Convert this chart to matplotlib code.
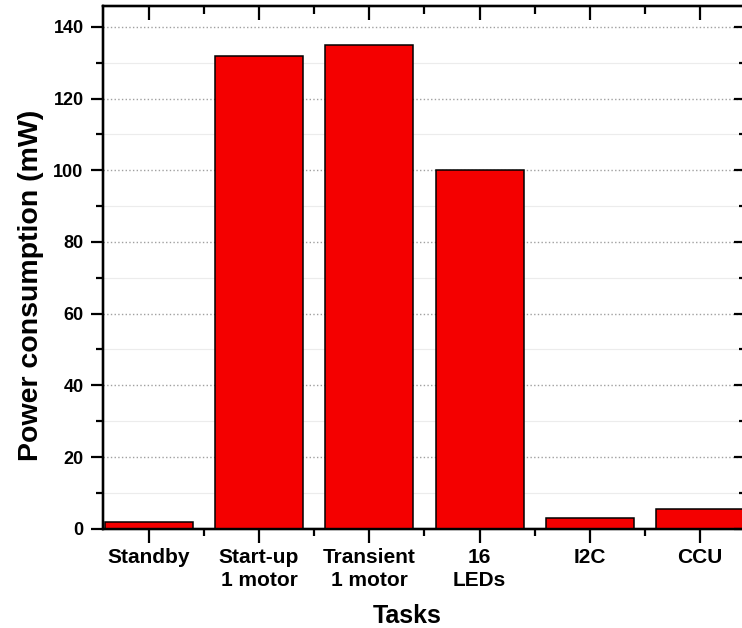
import numpy as np
import matplotlib.pyplot as plt
from matplotlib.ticker import MultipleLocator

plt.rcParams['font.family'] = ['Liberation Sans', 'DejaVu Sans']
plt.rcParams['font.weight'] = 'bold'

tasks = ["Standby", "Start-up\n1 motor", "Transient\n1 motor", "16\nLEDs", "I2C", "CCU"]
power_mw = [1.8, 132, 135, 100, 3.1, 5.4]

x = np.arange(len(tasks))

fig = plt.figure(figsize=(7.42, 6.28), dpi=100)
ax = fig.add_axes([0.1388, 0.1581, 0.8666, 0.8323])

ax.bar(x, power_mw, width=0.8, color="#f40000", edgecolor="black", linewidth=1.1, zorder=3)

ax.set_xlim(-0.415, 5.415)
ax.set_ylim(0, 145.8)

ax.set_xticks(x)
ax.set_xticklabels(tasks, fontsize=15, fontweight='bold', linespacing=1.25)
ax.set_xticks(x[:-1] + 0.5, minor=True)
ax.yaxis.set_major_locator(MultipleLocator(20))
ax.yaxis.set_minor_locator(MultipleLocator(10))
for lab in ax.get_yticklabels():
    lab.set_fontsize(13)
    lab.set_fontweight('bold')

# outward ticks on left/bottom, inward on top/right
ax.tick_params(which='major', direction='out', length=10, width=1.6, pad=4)
ax.tick_params(which='minor', direction='out', length=5, width=1.6)
ax.tick_params(axis='y', which='major', length=9, pad=5)

ax_top = ax.twiny()
ax_top.set_xlim(ax.get_xlim())
ax_top.set_xticks(x)
ax_top.set_xticks(x[:-1] + 0.5, minor=True)
ax_top.set_xticklabels([])
ax_top.tick_params(which='major', direction='in', length=10, width=1.6)
ax_top.tick_params(which='minor', direction='in', length=6, width=1.6)

ax_right = ax.twinx()
ax_right.set_ylim(ax.get_ylim())
ax_right.yaxis.set_major_locator(MultipleLocator(20))
ax_right.yaxis.set_minor_locator(MultipleLocator(10))
ax_right.set_yticklabels([])
ax_right.tick_params(which='major', direction='in', length=9, width=1.6)
ax_right.tick_params(which='minor', direction='in', length=5, width=1.6)

for a in (ax, ax_top, ax_right):
    for s in a.spines.values():
        s.set_linewidth(1.6)

ax.grid(axis='y', which='major', color='#a0a0a0', linestyle=':', linewidth=1.0, zorder=0)
ax.grid(axis='y', which='minor', color='#ececec', linestyle='-', linewidth=0.8, zorder=0)

ax.set_ylabel("Power consumption (mW)", fontsize=20.5, fontweight='bold', labelpad=7, y=0.466)
ax.set_xlabel("Tasks", fontsize=18, fontweight='bold', labelpad=10, x=0.473)

fig.savefig("out.png", dpi=100)
